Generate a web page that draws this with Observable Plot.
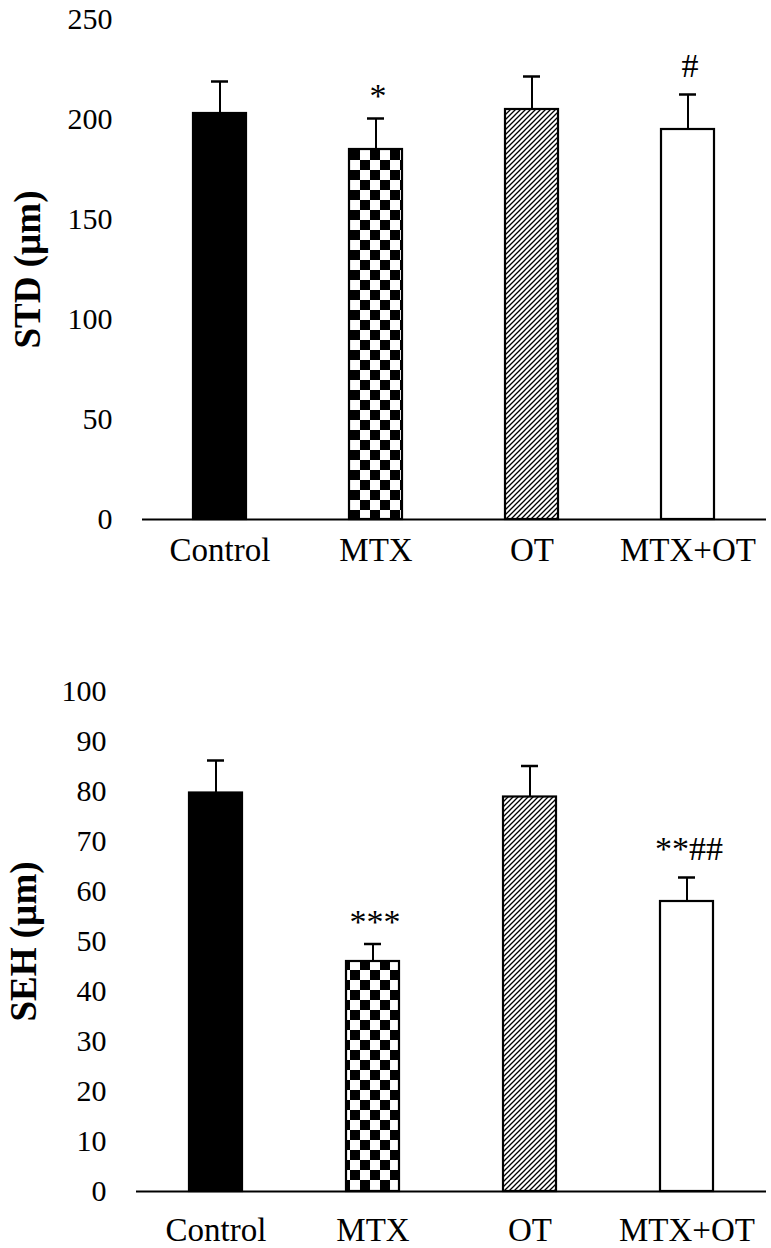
<!DOCTYPE html>
<html>
<head>
<meta charset="utf-8">
<script src="https://cdn.jsdelivr.net/npm/d3@7"></script>
<script src="https://cdn.jsdelivr.net/npm/@observablehq/plot@0.6"></script>
<style>
  html, body { margin: 0; padding: 0; background: white; }
  #wrap { width: 771px; height: 1248px; overflow: hidden; }
  #wrap svg { display: block; }
</style>
</head>
<body>
<div id="wrap"></div>
<script>
// ---- data ----
const categories = ["Control", "MTX", "OT", "MTX+OT"];
const fills = ["solid", "checker", "hatch", "open"];

const stdMean = [203, 185, 205, 195];
const stdSD = [16, 15.5, 16.5, 17.5];
const stdSig = ["", "*", "", "#"];
const stdTicks = [0, 50, 100, 150, 200, 250];

const sehMean = [79.7, 46, 78.9, 58];
const sehSD = [6.5, 3.5, 6.2, 4.8];
const sehSig = ["", "***", "", "**##"];
const sehTicks = [0, 10, 20, 30, 40, 50, 60, 70, 80, 90, 100];

const FONT = "'Times New Roman', 'Liberation Serif', Tinos, serif";

function makeDefs(prefix) {
  return () => {
    const ns = "http://www.w3.org/2000/svg";
    const defs = document.createElementNS(ns, "defs");
    defs.innerHTML = `
      <pattern id="${prefix}-checker" patternUnits="userSpaceOnUse" width="20" height="20">
        <rect width="20" height="20" fill="white"/>
        <rect x="0" y="0" width="10" height="10" fill="black"/>
        <rect x="10" y="10" width="10" height="10" fill="black"/>
      </pattern>
      <pattern id="${prefix}-hatch" patternUnits="userSpaceOnUse" width="5" height="5">
        <rect width="5" height="5" fill="white"/>
        <path d="M-1,1 L1,-1 M0,5 L5,0 M4,6 L6,4" stroke="black" stroke-width="1.3"/>
      </pattern>`;
    return defs;
  };
}

function fillFor(prefix, kind) {
  if (kind === "solid") return "black";
  if (kind === "checker") return `url(#${prefix}-checker)`;
  if (kind === "hatch") return `url(#${prefix}-hatch)`;
  return "white";
}

function chart({prefix, means, sds, sigs, ticks, domain, label, height, marginTop, marginBottom, marginLeft, xPad, labelDx}) {
  const rows = categories.map((c, i) => ({
    cat: c, mean: means[i], top: means[i] + sds[i], sig: sigs[i], fill: fillFor(prefix, fills[i])
  }));
  return Plot.plot({
    width: 771,
    height,
    marginTop,
    marginBottom,
    marginLeft,
    marginRight: 5,
    style: { fontFamily: FONT, fontSize: "30px", color: "black", background: "white", overflow: "visible" },
    x: { domain: categories, paddingInner: 0.66, paddingOuter: 0.33, label: null },
    y: { domain, ticks, label: null },
    marks: [
      makeDefs(prefix),
      Plot.axisY({ ticks, tickSize: 0, tickPadding: 30, line: true, strokeWidth: 2, fontSize: 30, label: null }),
      Plot.axisX({ tickSize: 0, tickPadding: xPad, fontSize: 33, label: null }),
      Plot.ruleX(rows, { x: "cat", y1: "mean", y2: "top", stroke: "black", strokeWidth: 2 }),
      Plot.tickY(rows, { x: "cat", y: "top", stroke: "black", strokeWidth: 2.5, insetLeft: 18, insetRight: 18 }),
      Plot.barY(rows, { x: "cat", y: "mean", fill: d => d.fill, stroke: "black", strokeWidth: 2.2 }),
      Plot.ruleY([0], { stroke: "black", strokeWidth: 2.2 }),
      Plot.text(rows.filter(d => d.sig && !d.sig.includes("#")), { x: "cat", y: "top", text: "sig", fontSize: 34, dy: -22, dx: 2, letterSpacing: "4px" }),
      Plot.text(rows.filter(d => d.sig && d.sig.includes("#")), { x: "cat", y: "top", text: "sig", fontSize: 34, dy: -28, dx: 2, letterSpacing: "4px" }),
      Plot.text([label], { frameAnchor: "left", rotate: -90, dx: labelDx, textAnchor: "middle", lineAnchor: "middle", fontSize: 37, fontWeight: "bold" })
    ]
  });
}

const wrap = document.getElementById("wrap");
wrap.appendChild(chart({
  prefix: "std", means: stdMean, sds: stdSD, sigs: stdSig, ticks: stdTicks, domain: [0, 250],
  label: "STD (µm)", height: 580, marginTop: 19, marginBottom: 61, marginLeft: 142, xPad: 18, labelDx: -114
}));
wrap.appendChild(chart({
  prefix: "seh", means: sehMean, sds: sehSD, sigs: sehSig, ticks: sehTicks, domain: [0, 100],
  label: "SEH (µm)", height: 668, marginTop: 111, marginBottom: 57, marginLeft: 136, xPad: 26, labelDx: -112
}));
</script>
</body>
</html>
